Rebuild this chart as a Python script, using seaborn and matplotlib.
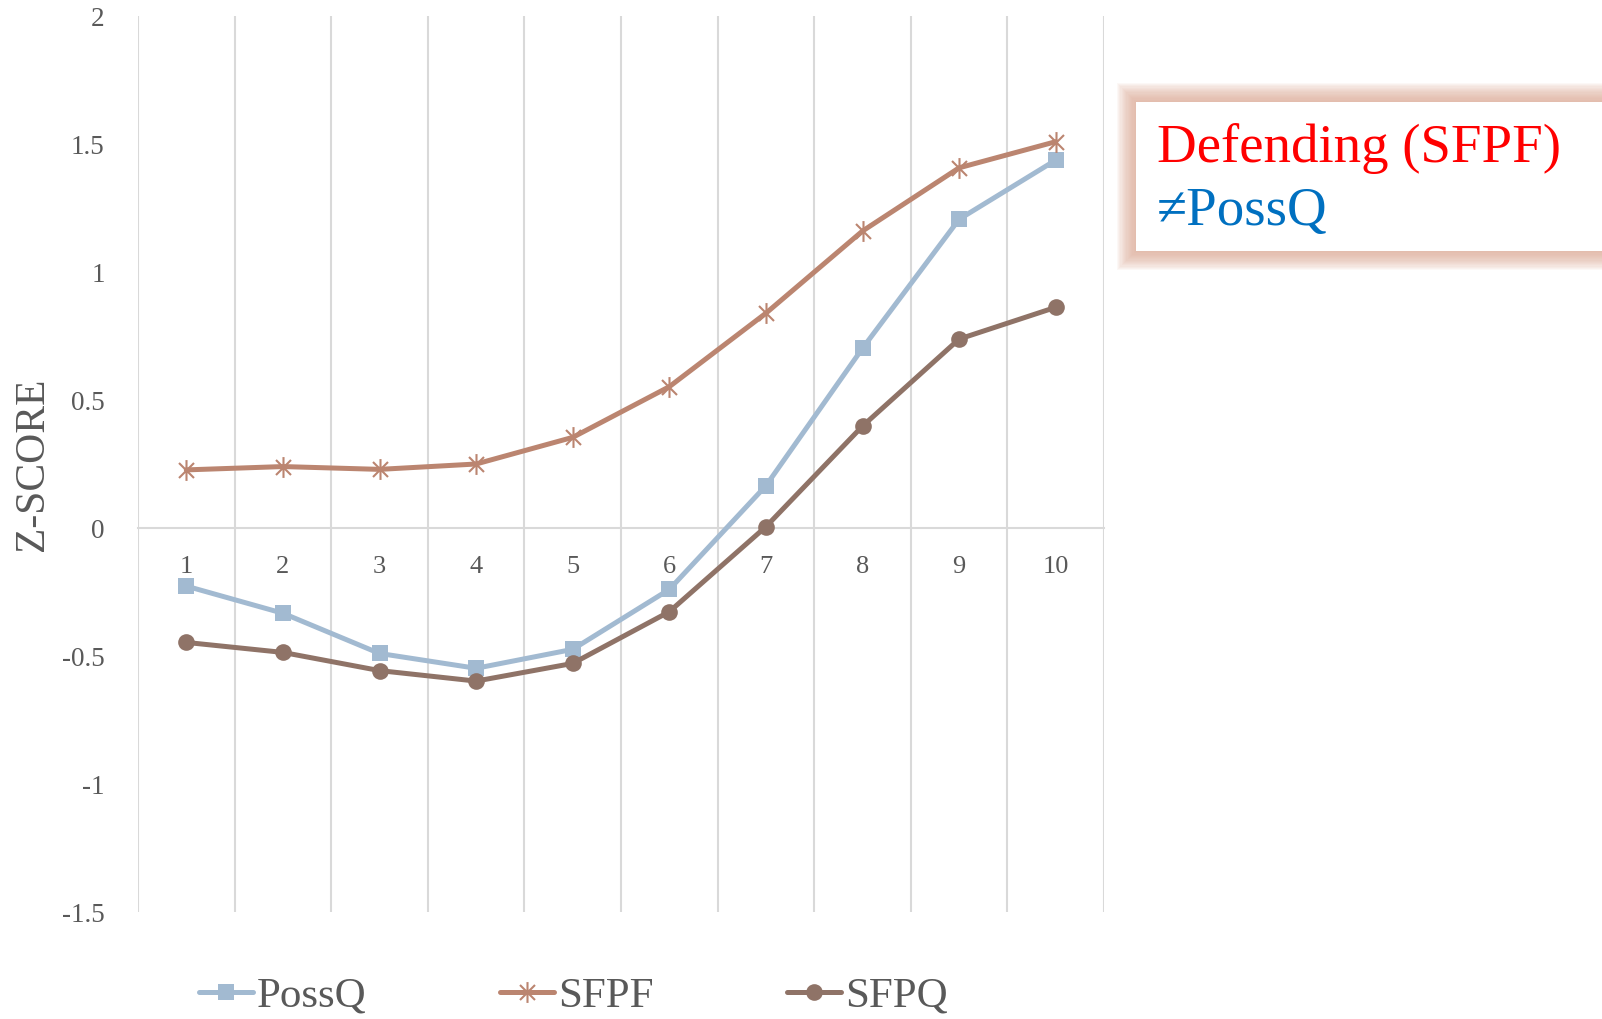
import numpy as np
import pandas as pd
import seaborn as sns
import matplotlib.pyplot as plt
from matplotlib.path import Path
from matplotlib.patches import Rectangle

# Decile groups on the category axis
deciles = [1, 2, 3, 4, 5, 6, 7, 8, 9, 10]

# Z-scores per decile for each measure
possq = [-0.227, -0.333, -0.49, -0.548, -0.474, -0.24, 0.165, 0.702, 1.206, 1.437]
sfpf = [0.227, 0.24, 0.229, 0.25, 0.354, 0.552, 0.839, 1.16, 1.407, 1.509]
sfpq = [-0.447, -0.486, -0.557, -0.598, -0.529, -0.327, 0.005, 0.398, 0.738, 0.862]

y_ticks = [-1.5, -1, -0.5, 0, 0.5, 1, 1.5, 2]
y_tick_labels = ["-1.5", "-1", "-0.5", "0", "0.5", "1", "1.5", "2"]

sns.set_theme(style="white")
plt.rcParams["font.family"] = ["Liberation Serif", "DejaVu Serif"]

TEXT = "#595959"
GRID = "#d9d9d9"
C_POSSQ = "#a2bad1"
C_SFPF = "#bb8570"
C_SFPQ = "#8f7367"

# asterisk marker: vertical stroke with an X through it
star = Path(
    [(0, -1), (0, 1), (-0.72, -0.72), (0.72, 0.72), (-0.72, 0.72), (0.72, -0.72)],
    [Path.MOVETO, Path.LINETO, Path.MOVETO, Path.LINETO, Path.MOVETO, Path.LINETO],
)

df = pd.DataFrame({"decile": deciles, "PossQ": possq, "SFPF": sfpf, "SFPQ": sfpq})

fig = plt.figure(figsize=(16.02, 10.19), dpi=100)
ax = fig.add_axes([138 / 1602, 1 - 912 / 1019, (1104 - 138) / 1602, (912 - 16) / 1019])

sns.lineplot(data=df, x="decile", y="PossQ", ax=ax, color=C_POSSQ, lw=3.6,
             marker="s", markersize=12, markeredgewidth=0, label="PossQ")
sns.lineplot(data=df, x="decile", y="SFPF", ax=ax, color=C_SFPF, lw=3.6,
             marker=star, markersize=15, markeredgewidth=1.5,
             markeredgecolor=C_SFPF, markerfacecolor="none", label="SFPF")
sns.lineplot(data=df, x="decile", y="SFPQ", ax=ax, color=C_SFPQ, lw=3.6,
             marker="o", markersize=12, markeredgewidth=0, label="SFPQ")

ax.set_xlim(0.5, 10.5)
ax.set_ylim(-1.5, 2)

# category boundary gridlines
ax.set_xticks(deciles)
ax.set_xticklabels([str(d) for d in deciles])
ax.set_xticks(np.arange(0.5, 11.0, 1.0), minor=True)
ax.grid(False)
ax.grid(which="minor", axis="x", color=GRID, lw=1.5)
ax.tick_params(axis="x", which="both", length=0)
ax.tick_params(axis="x", which="major", pad=20, labelsize=19, labelcolor=TEXT)

ax.set_yticks(y_ticks)
ax.set_yticklabels(y_tick_labels)
ax.tick_params(axis="y", length=0, pad=24, labelsize=19.5, labelcolor=TEXT)

for s in ["top", "right", "left"]:
    ax.spines[s].set_visible(False)
ax.spines["bottom"].set_position(("data", 0))
ax.spines["bottom"].set_color(GRID)
ax.spines["bottom"].set_linewidth(1.5)
ax.spines["bottom"].set_zorder(0.5)

ax.set_xlabel("")
ax.set_ylabel("Z-SCORE", fontsize=30, color=TEXT)
ax.yaxis.label.set(ha="center", va="center")
ax.yaxis.set_label_coords((33 - 138) / 966, 0.5)

leg = ax.legend(loc="center left", bbox_to_anchor=(160 / 1602, 1 - 996 / 1019),
                bbox_transform=fig.transFigure, ncol=3, frameon=False,
                fontsize=31, handlelength=1.25, handletextpad=0.1,
                columnspacing=3.1, labelcolor=TEXT)

# callout box with soft glow
x0, y0, x1, y1 = 1136 / 1602, 1 - 251 / 1019, 1.02, 1 - 102 / 1019
for i in range(16, 0, -1):
    pad = i * 1.2 / 1602
    padv = i * 1.2 / 1019
    fig.patches.append(Rectangle((x0 - pad, y0 - padv), (x1 - x0) + 2 * pad,
                                 (y1 - y0) + 2 * padv, transform=fig.transFigure,
                                 facecolor="#e0ae9a", edgecolor="none",
                                 alpha=0.085, zorder=1))
fig.patches.append(Rectangle((x0, y0), x1 - x0, y1 - y0, transform=fig.transFigure,
                             facecolor="white", edgecolor="none", zorder=2))
fig.text(1157 / 1602, 1 - 149 / 1019, "Defending (SFPF)", color="#ff0000",
         fontsize=39.5, va="center", ha="left", zorder=3)
fig.text(1157 / 1602, 1 - 212 / 1019, "≠PossQ", color="#0070c0",
         fontsize=39.5, va="center", ha="left", zorder=3)

fig.savefig("out.png", dpi=100, facecolor="white")
